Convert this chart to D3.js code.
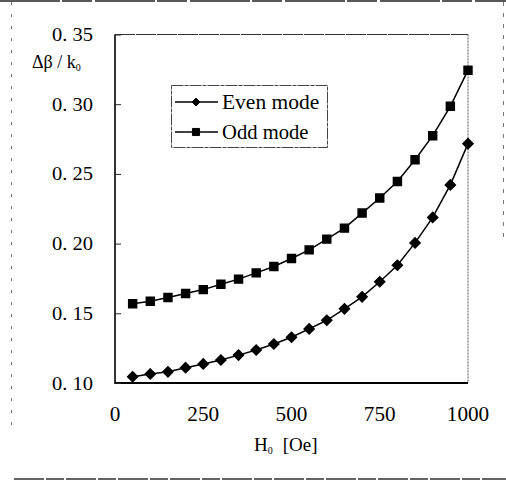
<!DOCTYPE html>
<html>
<head>
<meta charset="utf-8">
<script src="https://cdn.jsdelivr.net/npm/d3@7"></script>
<style>
  html, body { margin: 0; padding: 0; background: #fff; }
  #svg-container { width: 506px; height: 489px; }
  .tick-label { font-family: 'Liberation Serif', 'DejaVu Serif', serif; fill: #000; }
  .axis-title { font-family: 'Liberation Serif', 'DejaVu Serif', serif; fill: #000; }
</style>
</head>
<body>
<div id="svg-container"></div>
<script>
const hValues = [50, 100, 150, 200, 250, 300, 350, 400, 450, 500,
  550, 600, 650, 700, 750, 800, 850, 900, 950, 1000];
const evenMode = [0.1045, 0.1065, 0.108, 0.111, 0.1137, 0.1165, 0.12, 0.1237, 0.128, 0.1328,
  0.1388, 0.145, 0.1532, 0.1618, 0.1726, 0.1845, 0.2005, 0.2188, 0.2421, 0.2717];
const oddMode = [0.1568, 0.1587, 0.1613, 0.1642, 0.167, 0.1709, 0.1745, 0.179, 0.1836, 0.1893,
  0.1955, 0.2032, 0.2111, 0.2219, 0.2327, 0.2446, 0.2602, 0.2774, 0.2985, 0.3244];
const seriesNames = ['Even mode', 'Odd mode'];
const xTicks = [0, 250, 500, 750, 1000];
const yTicks = [0.1, 0.15, 0.2, 0.25, 0.3, 0.35];

const WIDTH = 506;
const HEIGHT = 489;
const plot = { left: 115, right: 468, top: 34.5, bottom: 383 };

const drawChart = () => {
  const svg = d3.create('svg').attr('width', WIDTH).attr('height', HEIGHT);

  const x = d3.scaleLinear().domain([0, 1000]).range([plot.left, plot.right]);
  const y = d3.scaleLinear().domain([0.1, 0.35]).range([plot.bottom, plot.top]);

  // outer scanned frame
  svg.append('line')
    .attr('x1', 0).attr('x2', WIDTH).attr('y1', 1).attr('y2', 1)
    .style('stroke', '#222').style('stroke-width', 1.5)
    .style('stroke-dasharray', '60 2 30 3');
  svg.append('line')
    .attr('x1', 11.5).attr('x2', 11.5).attr('y1', 2).attr('y2', 430)
    .style('stroke', '#777').style('stroke-width', 1)
    .style('stroke-dasharray', '3 9');
  svg.append('line')
    .attr('x1', 503.5).attr('x2', 503.5).attr('y1', 2).attr('y2', 240)
    .style('stroke', '#777').style('stroke-width', 1)
    .style('stroke-dasharray', '4 7');
  svg.append('line')
    .attr('x1', 14).attr('x2', WIDTH).attr('y1', 479).attr('y2', 479)
    .style('stroke', '#333').style('stroke-width', 1.4)
    .style('stroke-dasharray', '30 2 18 2');

  // plot frame: solid left/bottom, lighter top/right
  const frame = svg.append('g');
  frame.append('line')
    .attr('x1', plot.left).attr('x2', plot.right)
    .attr('y1', plot.top).attr('y2', plot.top)
    .style('stroke', '#333').style('stroke-width', 1.2)
    .style('stroke-dasharray', '20 1');
  frame.append('line')
    .attr('x1', plot.right).attr('x2', plot.right)
    .attr('y1', plot.top).attr('y2', plot.bottom)
    .style('stroke', '#555').style('stroke-width', 1)
    .style('stroke-dasharray', '2 1');
  frame.append('line')
    .attr('x1', plot.left).attr('x2', plot.left)
    .attr('y1', plot.top).attr('y2', plot.bottom + 1)
    .style('stroke', '#000').style('stroke-width', 1.6);
  frame.append('line')
    .attr('x1', plot.left).attr('x2', plot.right)
    .attr('y1', plot.bottom).attr('y2', plot.bottom)
    .style('stroke', '#000').style('stroke-width', 2);

  // y axis: inward ticks, labels on the left
  const yAxis = d3.axisRight(y)
    .tickValues(yTicks)
    .tickSize(6)
    .tickFormat('');
  svg.append('g')
    .attr('transform', `translate(${plot.left}, 0)`)
    .call(yAxis)
    .call((g) => g.select('.domain').remove())
    .call((g) => g.selectAll('line').style('stroke', '#222'));

  svg.append('g')
    .selectAll('text')
    .data(yTicks)
    .join('text')
    .attr('class', 'tick-label')
    .attr('x', 52)
    .attr('y', (d) => y(d) + 6.5)
    .attr('textLength', 41)
    .attr('lengthAdjust', 'spacingAndGlyphs')
    .style('font-size', '19px')
    .text((d) => d.toFixed(2).replace('.', '. '));

  svg.append('g')
    .selectAll('text')
    .data(xTicks)
    .join('text')
    .attr('class', 'tick-label')
    .attr('x', (d) => x(d) - String(d).length * 5.3)
    .attr('y', 421)
    .attr('textLength', (d) => String(d).length * 10.6)
    .attr('lengthAdjust', 'spacingAndGlyphs')
    .style('font-size', '21px')
    .text((d) => d);

  // axis titles
  const yTitle = svg.append('text')
    .attr('class', 'axis-title')
    .attr('x', 32)
    .attr('y', 68)
    .style('font-size', '18px');
  yTitle.append('tspan').text('Δβ / k');
  yTitle.append('tspan').attr('dy', 3).style('font-size', '10px').text('0');

  const xTitle = svg.append('text')
    .attr('class', 'axis-title')
    .attr('x', 254)
    .attr('y', 451)
    .style('font-size', '19px');
  xTitle.append('tspan').text('H');
  xTitle.append('tspan').attr('dy', 3).style('font-size', '10px').text('0');
  xTitle.append('tspan').attr('dy', -3).attr('dx', 10).text('[Oe]');

  // series
  const series = [
    { name: seriesNames[0], values: evenMode, symbol: d3.symbolDiamond2, size: 64, legendSize: 40 },
    { name: seriesNames[1], values: oddMode, symbol: d3.symbolSquare2, size: 80, legendSize: 64 },
  ];

  const line = d3.line()
    .x((d) => x(d[0]))
    .y((d) => y(d[1]));

  series.forEach((s) => {
    const points = hValues.map((h, i) => [h, s.values[i]]);
    svg.append('path')
      .attr('d', line(points))
      .style('fill', 'none')
      .style('stroke', '#000')
      .style('stroke-width', 1.5);
    svg.append('g')
      .selectAll('path')
      .data(points)
      .join('path')
      .attr('d', d3.symbol().type(s.symbol).size(s.size))
      .attr('transform', (d) => `translate(${x(d[0])}, ${y(d[1])})`)
      .style('fill', '#000')
      .style('stroke', '#000')
      .style('stroke-width', 1.5);
  });

  // legend
  const legend = svg.append('g').attr('id', 'legend');
  legend.append('rect')
    .attr('x', 171.5).attr('y', 85.5)
    .attr('width', 156).attr('height', 62)
    .style('fill', '#fff')
    .style('stroke', '#444')
    .style('stroke-width', 1)
    .style('stroke-dasharray', '12 1 4 1');

  legend.selectAll('g')
    .data(series)
    .join('g')
    .attr('transform', (_, index) => `translate(0, ${102 + index * 30})`)
    .each(function (s) {
      const g = d3.select(this);
      g.append('line')
        .attr('x1', 175).attr('x2', 218)
        .style('stroke', '#000').style('stroke-width', 1.4);
      g.append('path')
        .attr('d', d3.symbol().type(s.symbol).size(s.legendSize)())
        .attr('transform', 'translate(196, 0)')
        .style('fill', '#000').style('stroke', '#000').style('stroke-width', 1);
      g.append('text')
        .attr('class', 'tick-label')
        .attr('x', 222)
        .attr('y', 7)
        .attr('textLength', s.name.length * 10.8)
        .attr('lengthAdjust', 'spacingAndGlyphs')
        .style('font-size', '21px')
        .text(s.name);
    });

  document.getElementById('svg-container').appendChild(svg.node());
};

drawChart();
</script>
</body>
</html>
